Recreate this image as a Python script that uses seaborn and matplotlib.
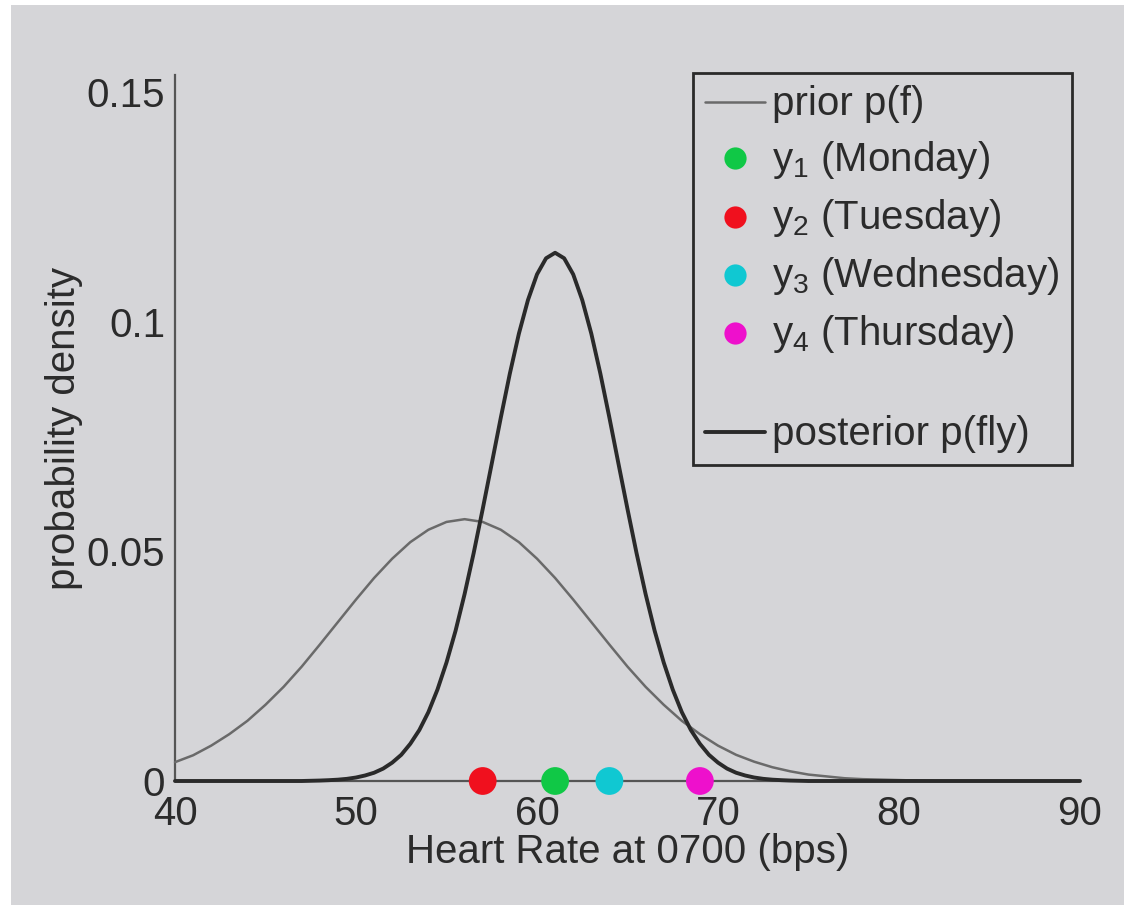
import matplotlib
matplotlib.use("Agg")
import matplotlib.pyplot as plt
from matplotlib.lines import Line2D
from matplotlib.patches import Rectangle
import seaborn as sns
import pandas as pd

# ---- data ----
prior_x = [40, 41, 42, 43, 44, 45, 46, 47, 48, 49, 50, 51, 52, 53, 54, 55, 56, 57, 58, 59,
           60, 61, 62, 63, 64, 65, 66, 67, 68, 69, 70, 71, 72, 73, 74, 75, 76, 77, 78, 79,
           80, 81, 82, 84, 86, 88, 90]
prior_y = [0.0041, 0.0056, 0.0077, 0.0102, 0.0131, 0.0166, 0.0205, 0.0249, 0.0297, 0.0346,
           0.0395, 0.0442, 0.0484, 0.0520, 0.0547, 0.0564, 0.0570, 0.0564, 0.0547, 0.0520,
           0.0484, 0.0442, 0.0395, 0.0346, 0.0297, 0.0249, 0.0205, 0.0166, 0.0131, 0.0102,
           0.0077, 0.0057, 0.0042, 0.0030, 0.0021, 0.0014, 0.0010, 0.0006, 0.0004, 0.0003,
           0.0002, 0.0001, 0.0, 0.0, 0.0, 0.0, 0.0]

post_x = [40, 44, 47, 48, 48.5, 49, 49.5, 50, 50.5, 51, 51.5, 52, 52.5, 53, 53.5, 54, 54.5,
          55, 55.5, 56, 56.5, 57, 57.5, 58, 58.5, 59, 59.5, 60, 60.5, 61, 61.5, 62, 62.5,
          63, 63.5, 64, 64.5, 65, 65.5, 66, 66.5, 67, 67.5, 68, 68.5, 69, 69.5, 70, 70.5,
          71, 71.5, 72, 72.5, 73, 73.5, 74, 75, 80, 90]
post_y = [0.0, 0.0, 0.0, 0.0001, 0.00018, 0.00029, 0.00047, 0.00076, 0.0012, 0.0018, 0.0027,
          0.0040, 0.0057, 0.0081, 0.0111, 0.0150, 0.0199, 0.0258, 0.0327, 0.0407, 0.0496,
          0.0592, 0.0691, 0.0791, 0.0887, 0.0974, 0.1047, 0.1103, 0.1138, 0.1150, 0.1138,
          0.1103, 0.1047, 0.0974, 0.0887, 0.0791, 0.0691, 0.0592, 0.0496, 0.0407, 0.0327,
          0.0258, 0.0199, 0.0150, 0.0111, 0.0081, 0.0057, 0.0040, 0.0027, 0.0018, 0.0012,
          0.00076, 0.00047, 0.00029, 0.00018, 0.0001, 0.0, 0.0, 0.0]

obs_days = ["Monday", "Tuesday", "Wednesday", "Thursday"]
obs_x = [61, 57, 64, 69]
obs_colors = ["#10c846", "#f0101e", "#10c8d2", "#ee10cc"]

x_ticks = [40, 50, 60, 70, 80, 90]
y_ticks = [0, 0.05, 0.1, 0.15]
y_ticklabels = ["0", "0.05", "0.1", "0.15"]

x_label = "Heart Rate at 0700 (bps)"
y_label = "probability density"
prior_label = "prior p(f)"
post_label = "posterior p(fly)"

# ---- styling ----
BG = "#d5d5d8"
TXT = "#2b2b2b"
AX = "#555555"
FS = 29

sns.set_theme(style="white")
plt.rcParams["font.family"] = ["Liberation Sans", "DejaVu Sans"]
plt.rcParams["mathtext.fontset"] = "custom"
plt.rcParams["mathtext.rm"] = "Liberation Sans"
plt.rcParams["mathtext.it"] = "Liberation Sans"

fig = plt.figure(figsize=(11.24, 9.05), dpi=100, facecolor=BG)
fig.patches.append(Rectangle((0, 0), 11 / 1124, 1, transform=fig.transFigure,
                             facecolor="white", edgecolor="none", zorder=-10))
fig.patches.append(Rectangle((0, 1 - 5 / 905), 1, 5 / 905, transform=fig.transFigure,
                             facecolor="white", edgecolor="none", zorder=-10))

ax = fig.add_axes([175 / 1124, (905 - 781) / 905, (1080 - 175) / 1124, (781 - 75) / 905])
ax.set_facecolor("none")

prior_df = pd.DataFrame({"x": prior_x, "y": prior_y})
post_df = pd.DataFrame({"x": post_x, "y": post_y})

sns.lineplot(data=prior_df, x="x", y="y", ax=ax, color="#6a6a6a", linewidth=1.8,
             clip_on=False, zorder=3)
sns.lineplot(data=post_df, x="x", y="y", ax=ax, color="#2a2a2a", linewidth=2.8,
             clip_on=False, zorder=4)

for xv, c in zip(obs_x, obs_colors):
    sns.scatterplot(x=[xv], y=[0], ax=ax, color=c, s=400, edgecolor="none",
                    clip_on=False, zorder=6)

ax.set_xlim(40, 90)
ax.set_ylim(0, 0.1537)
ax.set_xticks(x_ticks)
ax.set_xticklabels([str(t) for t in x_ticks])
ax.set_yticks(y_ticks)
ax.set_yticklabels(y_ticklabels)

for s in ["top", "right"]:
    ax.spines[s].set_visible(False)
for s in ["left", "bottom"]:
    ax.spines[s].set_color(AX)
    ax.spines[s].set_linewidth(1.6)

ax.tick_params(axis="both", direction="in", length=6, width=1.3, color=AX,
               labelsize=FS, labelcolor=TXT)
ax.tick_params(axis="x", pad=10)
ax.tick_params(axis="y", pad=7)

ax.set_xlabel(x_label, fontsize=FS, color=TXT, labelpad=0)
ax.set_ylabel(y_label, fontsize=FS, color=TXT, labelpad=3)

# legend
handles = [Line2D([], [], color="#6a6a6a", linewidth=1.8)]
labels = [prior_label]
for i, (d, c) in enumerate(zip(obs_days, obs_colors)):
    handles.append(Line2D([], [], linestyle="none", marker="o", markersize=16,
                          markerfacecolor=c, markeredgecolor="none"))
    labels.append(r"$\mathregular{y_%d}$ (%s)" % (i + 1, d))
handles.append(Line2D([], [], linestyle="none"))
labels.append(" ")
handles.append(Line2D([], [], color="#2a2a2a", linewidth=2.8))
labels.append(post_label)

leg = ax.legend(handles, labels, loc="upper right", bbox_to_anchor=(0.991, 1.003),
                fontsize=FS, frameon=True, fancybox=False, framealpha=1,
                facecolor=BG, edgecolor="#2a2a2a", handlelength=1.5,
                handleheight=0.45, handletextpad=0.18, labelspacing=0.4,
                borderpad=0.3, borderaxespad=0)
leg.get_frame().set_linewidth(2.0)
for t in leg.get_texts():
    t.set_color(TXT)
leg.get_texts()[5].set_fontsize(6)

fig.savefig("out.png", dpi=100, facecolor=fig.get_facecolor())
